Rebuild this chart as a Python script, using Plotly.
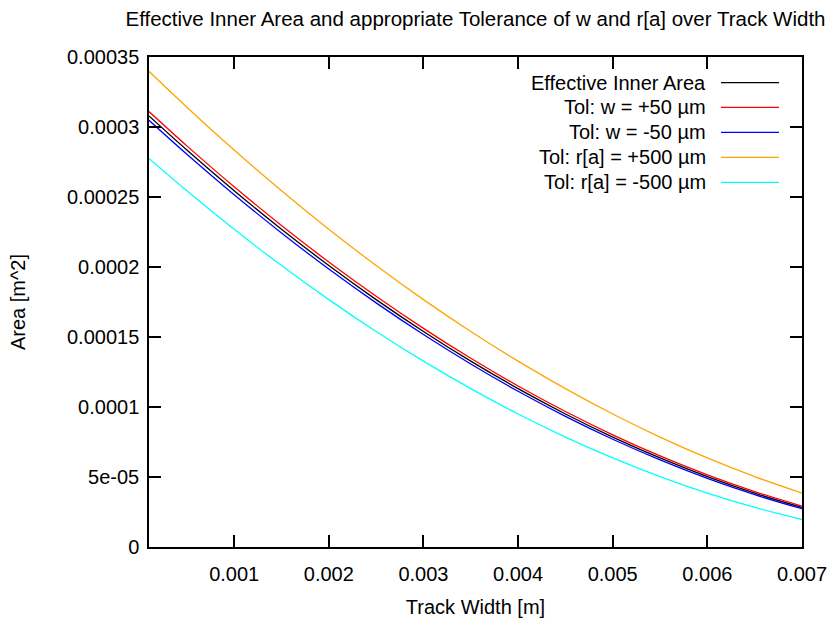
import plotly.graph_objects as go

# ---- data ----
track_width = [0.0001, 0.0005, 0.001, 0.0015, 0.002, 0.0025, 0.003, 0.0035,
               0.004, 0.0045, 0.005, 0.0055, 0.006, 0.0065, 0.007]

effective_area = [3.0791e-4, 2.8353e-4, 2.5447e-4, 2.2698e-4, 2.0106e-4, 1.7671e-4,
                  1.5394e-4, 1.3273e-4, 1.1310e-4, 9.503e-5, 7.854e-5, 6.362e-5,
                  5.027e-5, 3.848e-5, 2.827e-5]
tol_w_plus = [3.1103e-4, 2.8652e-4, 2.5731e-4, 2.2966e-4, 2.0358e-4, 1.7908e-4,
              1.5615e-4, 1.3478e-4, 1.1499e-4, 9.677e-5, 8.012e-5, 6.504e-5,
              5.153e-5, 3.959e-5, 2.922e-5]
tol_w_minus = [3.0480e-4, 2.8055e-4, 2.5165e-4, 2.2432e-4, 1.9856e-4, 1.7437e-4,
               1.5175e-4, 1.3070e-4, 1.1122e-4, 9.331e-5, 7.698e-5, 6.221e-5,
               4.902e-5, 3.739e-5, 2.734e-5]
tol_ra_plus = [3.3979e-4, 3.1416e-4, 2.8353e-4, 2.5447e-4, 2.2698e-4, 2.0106e-4,
               1.7671e-4, 1.5394e-4, 1.3273e-4, 1.1310e-4, 9.503e-5, 7.854e-5,
               6.362e-5, 5.027e-5, 3.848e-5]
tol_ra_minus = [2.7759e-4, 2.5447e-4, 2.2698e-4, 2.0106e-4, 1.7671e-4, 1.5394e-4,
                1.3273e-4, 1.1310e-4, 9.503e-5, 7.854e-5, 6.362e-5, 5.027e-5,
                3.848e-5, 2.827e-5, 1.963e-5]

series_names = ["Effective Inner Area", "Tol: w = +50 µm", "Tol: w = -50 µm",
                "Tol: r[a] = +500 µm", "Tol: r[a] = -500 µm"]
series_values = [effective_area, tol_w_plus, tol_w_minus, tol_ra_plus, tol_ra_minus]
series_colors = ["#000000", "#ff0000", "#0000ff", "#ffa500", "#00ffff"]

x_tickvals = [0.001, 0.002, 0.003, 0.004, 0.005, 0.006, 0.007]
x_ticktext = ["0.001", "0.002", "0.003", "0.004", "0.005", "0.006", "0.007"]
y_tickvals = [0, 0.00005, 0.0001, 0.00015, 0.0002, 0.00025, 0.0003, 0.00035]
y_ticktext = ["0", "5e-05", "0.0001", "0.00015", "0.0002", "0.00025", "0.0003", "0.00035"]

# ---- layout geometry ----
W, H = 832, 622
L, R, T, B = 149, 30, 57, 75
PW, PH = W - L - R, H - T - B
FONT = "Liberation Sans, Arial, sans-serif"


def px_x(p):
    return (p - L) / PW


def px_y(p):
    return (H - B - p) / PH


fig = go.Figure()
for name, vals, col in zip(series_names, series_values, series_colors):
    fig.add_trace(go.Scatter(x=track_width, y=vals, mode="lines", name=name,
                             line=dict(color=col, width=1.3, shape="spline"),
                             showlegend=False))

# manual gnuplot-style legend (text on left, sample on right)
row_y = [82.7, 107.3, 132.3, 157.3, 182.3]
for name, col, py in zip(series_names, series_colors, row_y):
    fig.add_annotation(x=px_x(708), y=px_y(py), xref="paper", yref="paper",
                       text=name, showarrow=False, xanchor="right", yanchor="middle",
                       font=dict(family=FONT, size=20, color="black"))
    fig.add_shape(type="line", xref="paper", yref="paper",
                  x0=px_x(721), x1=px_x(779), y0=px_y(py), y1=px_y(py),
                  line=dict(color=col, width=1.3))

axis_common = dict(showline=True, linecolor="black", linewidth=1.5, mirror="ticks",
                   ticks="inside", ticklen=12, tickwidth=1.5, tickcolor="black",
                   showgrid=False, zeroline=False,
                   tickfont=dict(family=FONT, size=20, color="black"))

fig.update_layout(
    width=W, height=H,
    margin=dict(l=L, r=R, t=T, b=B, autoexpand=False),
    paper_bgcolor="white", plot_bgcolor="white",
    font=dict(family=FONT, size=20, color="black"),
    title=dict(text="Effective Inner Area and appropriate Tolerance of w and r[a] over Track Width",
               x=0.5, xref="paper", y=1 - 19 / H, yref="container",
               xanchor="center", yanchor="middle",
               font=dict(family=FONT, size=20.5, color="black")),
    xaxis=dict(range=[0.0001, 0.007], tickvals=x_tickvals, ticktext=x_ticktext,
               title=dict(text="Track Width [m]", standoff=16,
                          font=dict(family=FONT, size=20, color="black")),
               ticklabelstandoff=8, **axis_common),
    yaxis=dict(range=[0, 0.00035], tickvals=y_tickvals, ticktext=y_ticktext,
               title=dict(text="Area [m^2]", standoff=36,
                          font=dict(family=FONT, size=20, color="black")),
               ticklabelstandoff=4, **axis_common),
)

fig.write_html("out.html")
